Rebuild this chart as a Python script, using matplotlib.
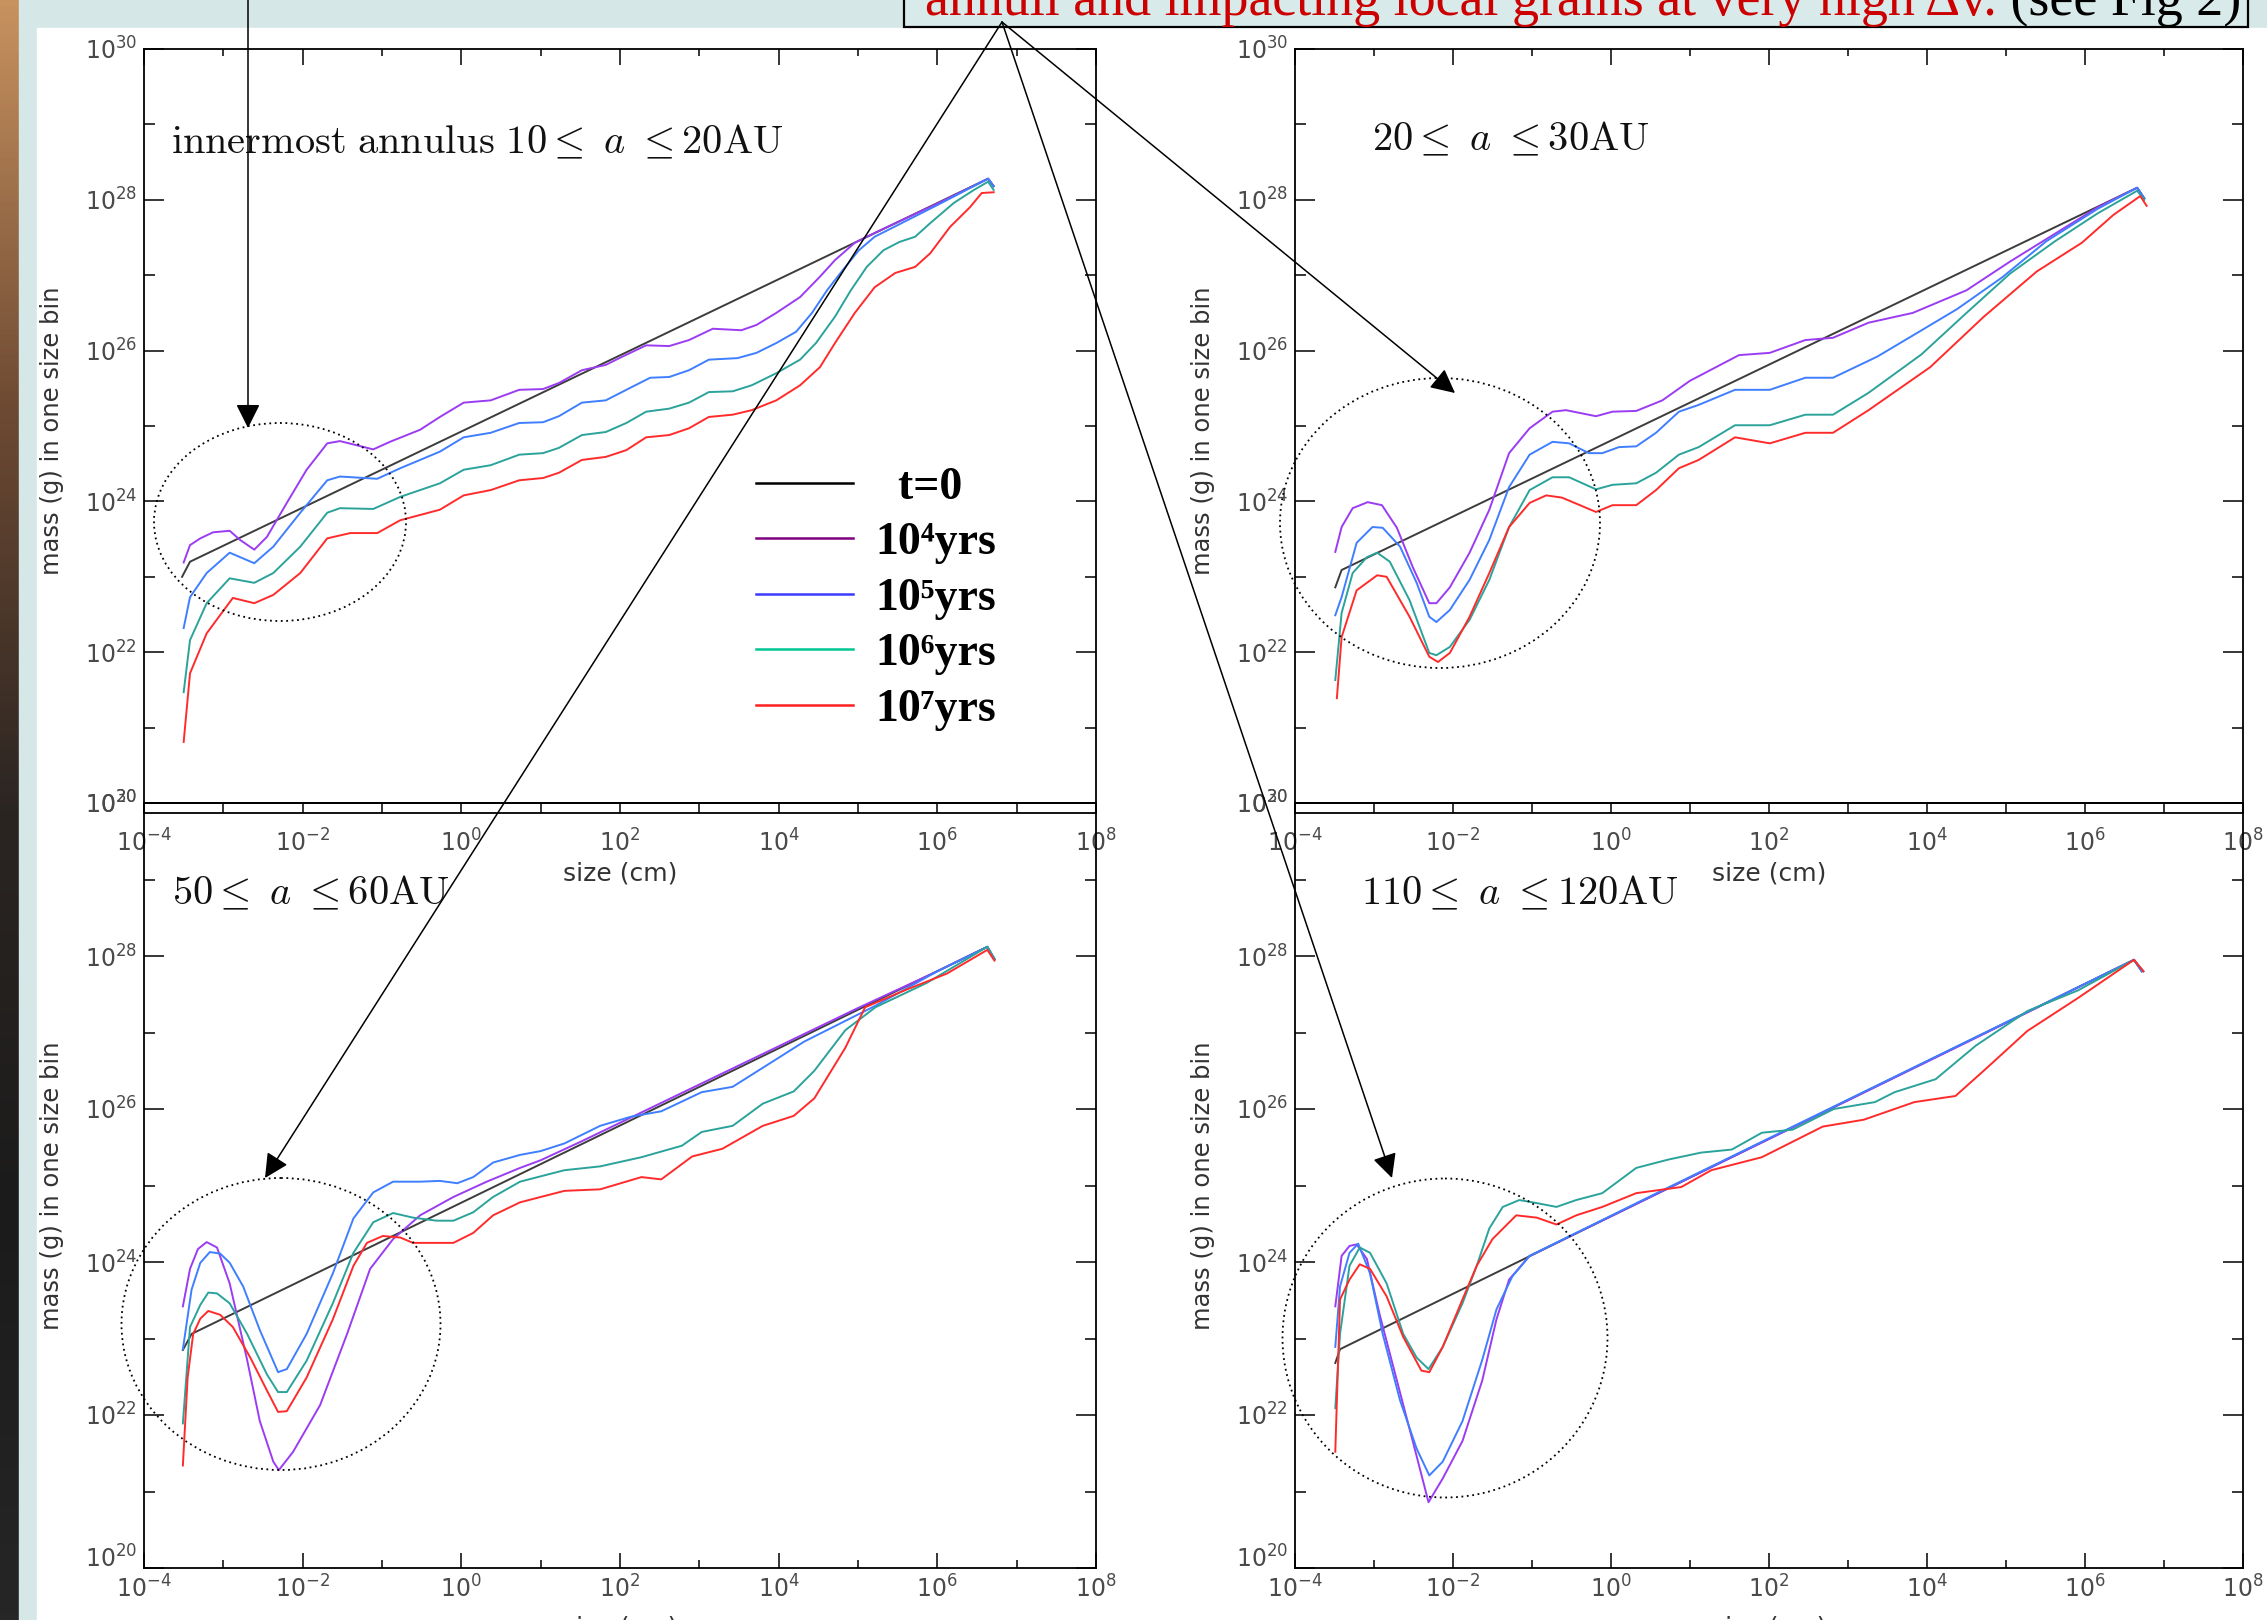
import matplotlib.pyplot as plt
import numpy as np
from matplotlib.patches import Ellipse, Rectangle
from matplotlib.lines import Line2D
from matplotlib.colors import LinearSegmentedColormap
from matplotlib.font_manager import FontProperties
from matplotlib.ticker import NullFormatter

W, H = 2267, 1620

# (log10 size [cm], log10 mass [g])
tl_t0 = [(-3.52, 23.0), (-3.42, 23.2), (6.64, 28.28), (6.71, 28.18)]
tl_e4 = [(-3.50, 23.19), (-3.42, 23.42), (-3.29, 23.51), (-3.13, 23.59), (-2.92, 23.61), (-2.79, 23.49),
         (-2.61, 23.36), (-2.45, 23.53), (-2.20, 23.98), (-1.95, 24.42), (-1.69, 24.77), (-1.53, 24.80),
         (-1.11, 24.69), (-0.90, 24.79), (-0.52, 24.95), (-0.27, 25.12), (0.03, 25.31), (0.37, 25.34),
         (0.73, 25.48), (1.03, 25.49), (1.23, 25.57), (1.52, 25.74), (1.82, 25.81), (2.03, 25.92),
         (2.33, 26.07), (2.62, 26.06), (2.87, 26.14), (3.17, 26.29), (3.53, 26.27), (3.72, 26.34),
         (3.97, 26.50), (4.27, 26.71), (4.52, 26.98), (4.71, 27.20), (4.96, 27.43), (5.21, 27.56),
         (6.0, 27.95), (6.64, 28.28), (6.71, 28.18)]
tl_e5 = [(-3.50, 22.32), (-3.42, 22.73), (-3.21, 23.05), (-2.92, 23.32), (-2.61, 23.18), (-2.37, 23.40),
         (-2.03, 23.85), (-1.69, 24.28), (-1.53, 24.33), (-1.06, 24.30), (-0.77, 24.44), (-0.27, 24.66),
         (0.03, 24.85), (0.37, 24.91), (0.73, 25.04), (1.03, 25.05), (1.23, 25.13), (1.52, 25.31),
         (1.82, 25.34), (2.08, 25.48), (2.38, 25.64), (2.62, 25.65), (2.87, 25.74), (3.12, 25.88),
         (3.48, 25.90), (3.72, 25.97), (3.97, 26.10), (4.22, 26.25), (4.42, 26.50), (4.61, 26.80),
         (4.81, 27.07), (5.01, 27.33), (5.21, 27.51), (6.0, 27.93), (6.64, 28.28), (6.71, 28.18)]
tl_e6 = [(-3.50, 21.47), (-3.42, 22.16), (-3.21, 22.65), (-2.92, 22.98), (-2.61, 22.92), (-2.37, 23.05),
         (-2.03, 23.40), (-1.69, 23.85), (-1.53, 23.91), (-1.11, 23.90), (-0.77, 24.06), (-0.27, 24.24),
         (0.03, 24.42), (0.37, 24.48), (0.73, 24.62), (1.03, 24.64), (1.23, 24.71), (1.52, 24.88),
         (1.82, 24.92), (2.08, 25.04), (2.33, 25.19), (2.62, 25.23), (2.87, 25.31), (3.12, 25.45),
         (3.42, 25.46), (3.66, 25.54), (3.97, 25.70), (4.27, 25.88), (4.47, 26.10), (4.71, 26.45),
         (4.91, 26.80), (5.11, 27.11), (5.32, 27.33), (5.52, 27.44), (5.72, 27.51), (5.91, 27.69),
         (6.21, 27.96), (6.46, 28.13), (6.64, 28.24), (6.71, 28.13)]
tl_e7 = [(-3.50, 20.81), (-3.42, 21.72), (-3.21, 22.25), (-2.88, 22.72), (-2.61, 22.65), (-2.37, 22.76),
         (-2.03, 23.05), (-1.69, 23.51), (-1.40, 23.58), (-1.06, 23.58), (-0.77, 23.75), (-0.27, 23.89),
         (0.03, 24.08), (0.37, 24.15), (0.73, 24.28), (1.03, 24.31), (1.23, 24.38), (1.52, 24.55),
         (1.82, 24.59), (2.08, 24.68), (2.33, 24.85), (2.62, 24.88), (2.87, 24.97), (3.12, 25.12),
         (3.42, 25.15), (3.66, 25.21), (3.97, 25.34), (4.27, 25.54), (4.52, 25.78), (4.71, 26.10),
         (4.96, 26.50), (5.21, 26.84), (5.47, 27.03), (5.72, 27.11), (5.91, 27.29), (6.16, 27.64),
         (6.41, 27.90), (6.56, 28.09), (6.71, 28.10)]

tr_t0 = [(-3.49, 22.86), (-3.41, 23.09), (6.66, 28.16), (6.75, 28.02)]
tr_e4 = [(-3.49, 23.33), (-3.41, 23.66), (-3.27, 23.91), (-3.08, 23.99), (-2.90, 23.95), (-2.71, 23.65),
         (-2.51, 23.13), (-2.30, 22.65), (-2.21, 22.65), (-2.04, 22.86), (-1.79, 23.32), (-1.54, 23.89),
         (-1.29, 24.64), (-1.03, 24.97), (-0.74, 25.19), (-0.57, 25.21), (-0.19, 25.13), (0.02, 25.19),
         (0.32, 25.20), (0.65, 25.34), (1.0, 25.6), (1.62, 25.94), (2.01, 25.97), (2.46, 26.14),
         (2.81, 26.17), (3.26, 26.37), (3.82, 26.50), (4.5, 26.80), (5.05, 27.18), (5.62, 27.55),
         (6.16, 27.90), (6.66, 28.16), (6.75, 28.02)]
tr_e5 = [(-3.49, 22.49), (-3.41, 22.73), (-3.22, 23.45), (-3.02, 23.66), (-2.89, 23.65), (-2.67, 23.40),
         (-2.46, 22.92), (-2.30, 22.47), (-2.21, 22.40), (-2.04, 22.56), (-1.79, 22.96), (-1.54, 23.49),
         (-1.29, 24.19), (-1.03, 24.62), (-0.74, 24.79), (-0.53, 24.77), (-0.28, 24.64), (-0.11, 24.64),
         (0.10, 24.72), (0.32, 24.73), (0.57, 24.91), (0.86, 25.19), (1.11, 25.28), (1.57, 25.48),
         (2.01, 25.48), (2.46, 25.64), (2.81, 25.64), (3.37, 25.92), (3.82, 26.20), (4.38, 26.55),
         (4.95, 26.97), (5.51, 27.45), (6.16, 27.88), (6.66, 28.16), (6.75, 28.02)]
tr_e6 = [(-3.49, 21.63), (-3.41, 22.52), (-3.27, 23.05), (-3.09, 23.26), (-2.96, 23.32), (-2.80, 23.20),
         (-2.55, 22.69), (-2.30, 21.99), (-2.21, 21.96), (-2.04, 22.07), (-1.79, 22.43), (-1.54, 22.96),
         (-1.29, 23.66), (-1.03, 24.15), (-0.74, 24.32), (-0.53, 24.32), (-0.19, 24.16), (0.02, 24.22),
         (0.32, 24.24), (0.57, 24.38), (0.86, 24.62), (1.11, 24.72), (1.57, 25.01), (2.01, 25.01),
         (2.46, 25.15), (2.81, 25.15), (3.26, 25.44), (3.93, 25.95), (4.5, 26.5), (5.05, 27.02),
         (5.62, 27.45), (6.16, 27.82), (6.66, 28.12), (6.75, 28.0)]
tr_e7 = [(-3.47, 21.39), (-3.41, 22.2), (-3.22, 22.82), (-2.96, 23.02), (-2.84, 23.0), (-2.55, 22.47),
         (-2.30, 21.94), (-2.19, 21.87), (-2.04, 21.99), (-1.79, 22.47), (-1.54, 23.05), (-1.29, 23.66),
         (-1.03, 23.98), (-0.82, 24.08), (-0.62, 24.05), (-0.19, 23.86), (0.02, 23.95), (0.32, 23.95),
         (0.57, 24.15), (0.86, 24.44), (1.11, 24.55), (1.57, 24.85), (2.01, 24.77), (2.46, 24.91),
         (2.81, 24.91), (3.26, 25.21), (4.04, 25.78), (4.72, 26.45), (5.39, 27.05), (5.96, 27.43),
         (6.36, 27.8), (6.70, 28.05), (6.78, 27.92)]

bl_t0 = [(-3.51, 22.85), (-3.40, 23.06), (6.63, 28.12), (6.72, 27.96)]
bl_e4 = [(-3.51, 23.42), (-3.42, 23.91), (-3.32, 24.17), (-3.21, 24.26), (-3.08, 24.19), (-2.92, 23.72),
         (-2.70, 22.72), (-2.54, 21.92), (-2.37, 21.39), (-2.30, 21.28), (-2.12, 21.52), (-1.78, 22.13),
         (-1.44, 23.06), (-1.15, 23.91), (-0.86, 24.30), (-0.52, 24.61), (-0.10, 24.85), (0.32, 25.05),
         (0.74, 25.23), (1.0, 25.33), (1.5, 25.57), (2.0, 25.82), (3.0, 26.32), (4.0, 26.82), (5.0, 27.32),
         (6.0, 27.80), (6.63, 28.12), (6.72, 27.96)]
bl_e5 = [(-3.51, 22.86), (-3.40, 23.64), (-3.29, 23.99), (-3.17, 24.13), (-3.04, 24.11), (-2.92, 23.99),
         (-2.75, 23.68), (-2.54, 23.11), (-2.31, 22.56), (-2.20, 22.60), (-1.95, 23.06), (-1.62, 23.85),
         (-1.36, 24.57), (-1.11, 24.91), (-0.86, 25.05), (-0.52, 25.05), (-0.27, 25.06), (-0.05, 25.03),
         (0.15, 25.11), (0.40, 25.30), (0.74, 25.40), (1.0, 25.45), (1.3, 25.55), (1.75, 25.78),
         (2.14, 25.90), (2.52, 25.97), (3.03, 26.22), (3.42, 26.29), (4.32, 26.88), (5.22, 27.35),
         (6.0, 27.8), (6.63, 28.12), (6.72, 27.96)]
bl_e6 = [(-3.51, 21.89), (-3.42, 23.15), (-3.29, 23.44), (-3.19, 23.60), (-3.08, 23.59), (-2.92, 23.46),
         (-2.70, 23.06), (-2.45, 22.53), (-2.31, 22.30), (-2.20, 22.30), (-1.95, 22.71), (-1.62, 23.46),
         (-1.36, 24.12), (-1.11, 24.52), (-0.86, 24.64), (-0.61, 24.58), (-0.31, 24.54), (-0.10, 24.54),
         (0.15, 24.65), (0.40, 24.85), (0.74, 25.05), (1.0, 25.12), (1.3, 25.2), (1.75, 25.25),
         (2.27, 25.37), (2.78, 25.52), (3.03, 25.70), (3.42, 25.78), (3.80, 26.07), (4.19, 26.23),
         (4.45, 26.50), (4.84, 27.03), (5.22, 27.33), (5.87, 27.65), (6.63, 28.12), (6.72, 27.96)]
bl_e7 = [(-3.51, 21.34), (-3.45, 22.49), (-3.38, 23.06), (-3.29, 23.26), (-3.19, 23.36), (-3.04, 23.31),
         (-2.88, 23.15), (-2.66, 22.75), (-2.45, 22.32), (-2.31, 22.04), (-2.20, 22.05), (-1.95, 22.49),
         (-1.62, 23.25), (-1.36, 23.95), (-1.19, 24.25), (-0.99, 24.34), (-0.77, 24.32), (-0.61, 24.25),
         (-0.10, 24.25), (0.15, 24.38), (0.40, 24.61), (0.74, 24.78), (1.0, 24.85), (1.3, 24.93),
         (1.75, 24.95), (2.27, 25.11), (2.52, 25.08), (2.91, 25.38), (3.29, 25.48), (3.80, 25.78),
         (4.19, 25.91), (4.45, 26.14), (4.84, 26.80), (5.09, 27.33), (5.61, 27.56), (6.12, 27.77),
         (6.63, 28.08), (6.72, 27.94)]

br_t0 = [(-3.49, 22.68), (-3.43, 22.86), (6.62, 27.95), (6.72, 27.8)]
br_e4 = [(-3.49, 23.42), (-3.41, 24.08), (-3.31, 24.21), (-3.22, 24.23), (-3.09, 24.04), (-2.93, 23.32),
         (-2.71, 22.45), (-2.51, 21.66), (-2.31, 20.86), (-2.13, 21.17), (-1.88, 21.66), (-1.63, 22.45),
         (-1.45, 23.25), (-1.29, 23.77), (-1.03, 24.08), (0.5, 24.85), (2.5, 25.86), (4.5, 26.87),
         (6.62, 27.95), (6.72, 27.8)]
br_e5 = [(-3.49, 22.89), (-3.43, 23.68), (-3.31, 24.12), (-3.20, 24.24), (-3.05, 23.85), (-2.89, 23.06),
         (-2.67, 22.19), (-2.46, 21.56), (-2.30, 21.21), (-2.13, 21.39), (-1.88, 21.92), (-1.63, 22.72),
         (-1.45, 23.38), (-1.25, 23.81), (-1.03, 24.08), (0.5, 24.86), (2.5, 25.87), (4.5, 26.88),
         (6.62, 27.95), (6.72, 27.8)]
br_e6 = [(-3.49, 22.09), (-3.43, 23.06), (-3.31, 23.95), (-3.18, 24.19), (-3.05, 24.12), (-2.84, 23.72),
         (-2.63, 23.06), (-2.46, 22.75), (-2.31, 22.60), (-2.13, 22.89), (-1.88, 23.46), (-1.70, 23.95),
         (-1.54, 24.44), (-1.37, 24.72), (-1.16, 24.81), (-0.94, 24.77), (-0.69, 24.72), (-0.44, 24.81),
         (-0.11, 24.90), (0.32, 25.23), (0.73, 25.34), (1.14, 25.43), (1.53, 25.47), (1.91, 25.69),
         (2.30, 25.73), (2.82, 26.0), (3.34, 26.09), (3.59, 26.22), (4.11, 26.39), (4.62, 26.83),
         (5.27, 27.28), (5.91, 27.55), (6.62, 27.95), (6.74, 27.8)]
br_e7 = [(-3.49, 21.52), (-3.43, 23.51), (-3.31, 23.77), (-3.18, 23.97), (-3.05, 23.91), (-2.84, 23.55),
         (-2.63, 23.02), (-2.40, 22.58), (-2.30, 22.56), (-2.13, 22.89), (-1.88, 23.51), (-1.70, 23.95),
         (-1.50, 24.30), (-1.20, 24.61), (-0.94, 24.58), (-0.69, 24.49), (-0.44, 24.61), (-0.11, 24.72),
         (0.32, 24.90), (0.89, 24.98), (1.27, 25.2), (1.91, 25.37), (2.68, 25.77), (3.20, 25.86),
         (3.84, 26.09), (4.36, 26.17), (4.75, 26.53), (5.27, 27.02), (5.91, 27.45), (6.62, 27.95),
         (6.74, 27.8)]

x_major = [-4, -2, 0, 2, 4, 6, 8]
x_minor = [-3, -1, 1, 3, 5, 7]
x_labels = [r'$10^{-4}$', r'$10^{-2}$', r'$10^{0}$', r'$10^{2}$', r'$10^{4}$', r'$10^{6}$', r'$10^{8}$']
y_major = [20, 22, 24, 26, 28, 30]
y_minor = [21, 23, 25, 27, 29]
y_labels = [r'$10^{20}$', r'$10^{22}$', r'$10^{24}$', r'$10^{26}$', r'$10^{28}$', r'$10^{30}$']

titles = [r'$\mathrm{innermost\ annulus\ 10}{\leq}\ a\ {\leq}\mathrm{20AU}$',
          r'$\mathrm{20}{\leq}\ a\ {\leq}\mathrm{30AU}$',
          r'$\mathrm{50}{\leq}\ a\ {\leq}\mathrm{60AU}$',
          r'$\mathrm{110}{\leq}\ a\ {\leq}\mathrm{120AU}$']
legend_labels = ['  t=0', '10⁴yrs', '10⁵yrs', '10⁶yrs', '10⁷yrs']
curve_colors = ['#3c3c3c', '#9b3cf2', '#3f7eff', '#2ba39a', '#ff2b2b']
legend_colors = ['black', '#800080', '#3b3bff', '#00c694', '#ff2020']

fig = plt.figure(figsize=(W / 100, H / 100), dpi=100)

# slide background
bg = fig.add_axes([0, 0, 1, 1], zorder=-5)
strip = LinearSegmentedColormap.from_list('strip', ['#c8925f', '#6e4a33', '#2b2522', '#1b1b1b', '#262626'])
bg.imshow(np.linspace(0, 1, 256)[:, None], cmap=strip, extent=(0, 19, H, 0), aspect='auto')
bg.add_patch(Rectangle((19, 0), W, H, color='#d5e8e7'))
bg.add_patch(Rectangle((37, 28), W, H, color='white'))
bg.set_xlim(0, W)
bg.set_ylim(H, 0)
bg.axis('off')

TICK_FS = 17
TICK_COLOR = '#4a4a4a'


def make_panel(x0, y0, x1, y1, ylo, top_row):
    ax = fig.add_axes([x0 / W, 1 - y1 / H, (x1 - x0) / W, (y1 - y0) / H])
    ax.set_facecolor('none')
    ax.set_xscale('log')
    ax.set_yscale('log')
    ax.set_xlim(1e-4, 1e8)
    ax.set_ylim(10.0 ** ylo, 1e30)
    ax.set_xticks([10.0 ** v for v in x_major])
    ax.set_xticklabels(x_labels)
    ax.set_xticks([10.0 ** v for v in x_minor], minor=True)
    ax.set_yticks([10.0 ** v for v in y_major])
    ax.set_yticklabels(y_labels)
    ax.set_yticks([10.0 ** v for v in y_minor], minor=True)
    ax.xaxis.set_minor_formatter(NullFormatter())
    ax.yaxis.set_minor_formatter(NullFormatter())
    for s in ax.spines.values():
        s.set_linewidth(1.3)
    ax.tick_params(axis='y', which='major', direction='in', length=14.5, width=1.1, left=True, right=True,
                   labelsize=TICK_FS, labelcolor=TICK_COLOR, pad=5)
    ax.tick_params(axis='y', which='minor', direction='in', length=8, width=1.1, left=True, right=True)
    if top_row:
        ax.tick_params(axis='x', which='major', direction='in', length=11.5, width=1.1, top=True,
                       bottom=False, labelsize=TICK_FS, labelcolor=TICK_COLOR, pad=12)
        ax.tick_params(axis='x', which='minor', direction='in', length=5, width=1.1, top=True, bottom=False)
    else:
        ax.tick_params(axis='x', which='major', direction='in', length=11, width=1.1, top=False,
                       bottom=True, labelsize=TICK_FS, labelcolor=TICK_COLOR, pad=5)
        ax.tick_params(axis='x', which='minor', direction='in', length=6, width=1.1, top=False, bottom=True)
        sec = ax.secondary_xaxis('top')
        sec.set_xticks([10.0 ** v for v in x_major])
        sec.set_xticks([10.0 ** v for v in x_minor], minor=True)
        sec.tick_params(which='both', direction='in', length=7.2, width=1.1, labeltop=False)
        sec.xaxis.set_minor_formatter(NullFormatter())
        sec.spines['top'].set_linewidth(1.3)
        # lowest label sits on the axis line, as in the source plots
        ax.get_yticklabels()[0].set_verticalalignment('baseline')
    ax.set_xlabel('size (cm)', fontsize=18, color='#333333')
    ax.set_ylabel('mass (g) in one size bin', fontsize=17.5, color='#333333')
    return ax


panels = [
    make_panel(144, 49, 1096, 813, 20 - 10 / 75.4, True),
    make_panel(1295, 49, 2243, 813, 20 - 10 / 75.4, True),
    make_panel(144, 803, 1096, 1568, 20, False),
    make_panel(1295, 803, 2243, 1568, 20, False),
]
series = [
    [tl_t0, tl_e4, tl_e5, tl_e6, tl_e7],
    [tr_t0, tr_e4, tr_e5, tr_e6, tr_e7],
    [bl_t0, bl_e4, bl_e5, bl_e6, bl_e7],
    [br_t0, br_e4, br_e5, br_e6, br_e7],
]
title_pos = [(171, 153), (1372, 150), (172, 904), (1361, 904)]

for k, ax in enumerate(panels):
    for pts, c in zip(series[k], curve_colors):
        lx, ly = np.array(pts).T
        ax.plot(10.0 ** lx, 10.0 ** ly, color=c, lw=1.4)
    h = 764 if k < 2 else 765
    ax.xaxis.set_label_coords(0.5, -48 / h)
    ax.yaxis.set_label_coords(-0.084, 0.5)

# overlay: titles, annotation box, arrows, ellipses
ov = fig.add_axes([0, 0, 1, 1], zorder=10)
ov.set_xlim(0, W)
ov.set_ylim(H, 0)
ov.axis('off')
ov.patch.set_alpha(0)

for (tx, ty), s in zip(title_pos, titles):
    ov.text(tx, ty, s, fontsize=29, math_fontfamily='cm', va='baseline', ha='left', color='#111111')

ov.add_patch(Rectangle((904, -30), 1344, 57, facecolor='#d8ebea', edgecolor='black', lw=1.6))
red = ov.text(925, 15, 'annuli and impacting local grains at very high Δv.', color='#cc0000',
              fontsize=38.8, family='Liberation Serif', va='baseline', ha='left')
ov.annotate(' (see Fig 2)', xy=(1, 0), xycoords=red, va='bottom', ha='left', color='black',
            fontsize=38.8, family='Liberation Serif')

arrow_kw = dict(arrowstyle='-|>', mutation_scale=37, lw=1.1, color='black', shrinkA=0, shrinkB=0)
ov.annotate('', xy=(248, 428), xytext=(248, -5), arrowprops=arrow_kw)
for tip in [(1455, 393), (265, 1178), (1392, 1178)]:
    ov.annotate('', xy=tip, xytext=(1002, 22), arrowprops=arrow_kw)

for cx, cy, ew, eh in [(280, 522, 252, 198), (1440, 523, 320, 290), (281, 1324, 319, 292), (1445, 1338, 325, 319)]:
    ov.add_patch(Ellipse((cx, cy), ew, eh, fill=False, ls=(0, (1, 2)), lw=1.3, color='black'))

handles = [Line2D([], [], color=c, lw=1.8) for c in legend_colors]
fig.legend(handles, legend_labels, loc='upper left', bbox_to_anchor=(756 / W, 1 - 467 / H), frameon=False,
           prop=FontProperties(family=['Liberation Serif', 'DejaVu Serif'], weight='bold', size=33),
           handlelength=2.12, handletextpad=0.48, labelspacing=0.29, borderpad=0, borderaxespad=0)

fig.savefig('out.png', dpi=100)
